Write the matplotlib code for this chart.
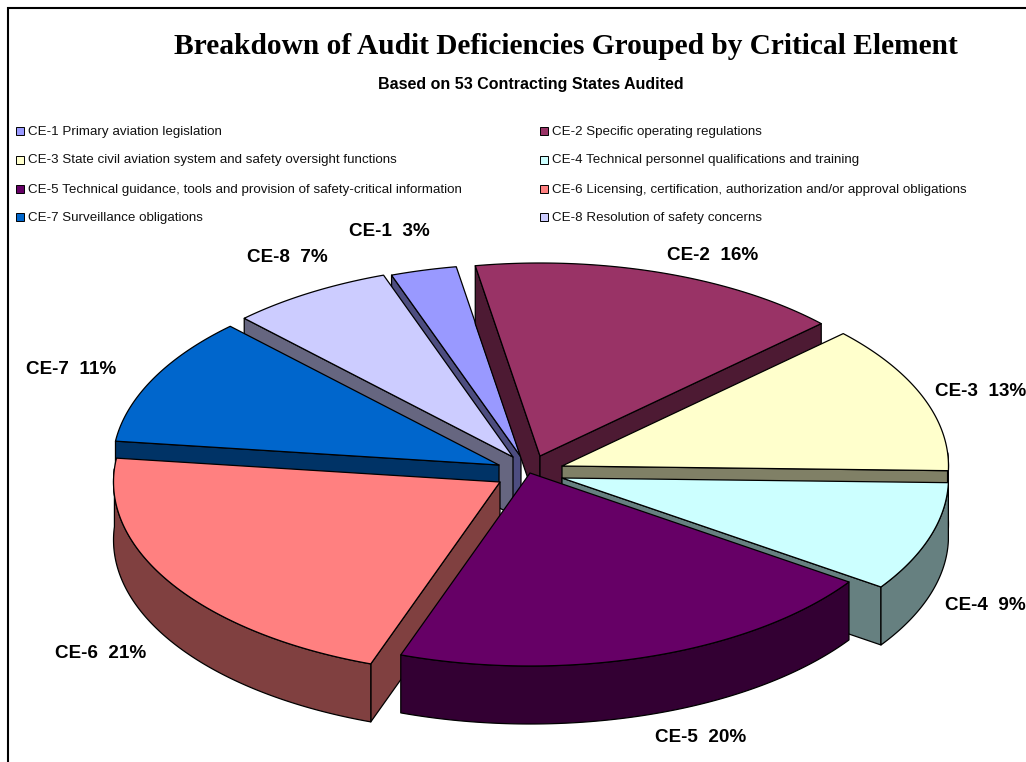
import numpy as np
import matplotlib
matplotlib.use("Agg")
import matplotlib.pyplot as plt
from matplotlib.patches import Polygon, Rectangle

# ---- data ----
codes = ["CE-1", "CE-2", "CE-3", "CE-4", "CE-5", "CE-6", "CE-7", "CE-8"]
values = [2.9, 16.4, 12.6, 9, 20, 21, 11, 7.1]
legend_names = [
    "Primary aviation legislation",
    "Specific operating regulations",
    "State civil aviation system and safety oversight functions",
    "Technical personnel qualifications and training",
    "Technical guidance, tools and provision of safety-critical information",
    "Licensing, certification, authorization and/or approval obligations",
    "Surveillance obligations",
    "Resolution of safety concerns",
]
title = "Breakdown of Audit Deficiencies Grouped by Critical Element"
subtitle = "Based on 53 Contracting States Audited"

# ---- style ----
top_colors = ["#9999FF", "#993366", "#FFFFCC", "#CCFFFF", "#660066", "#FF8080", "#0066CC", "#CCCCFF"]
side_colors = ["#4D4D80", "#4D1A33", "#808066", "#668080", "#330033", "#804040", "#003366", "#666680"]
explode_x = [-9, 10, 32, 32, 0, -30, -31, -17]
explode_y = [-9, -10, 0, 12, 7, 16, -1, -9]
label_pos = [(389, 231, "center"), (713, 255, "center"), (935, 391, "left"), (945, 605, "left"),
             (701, 737, "center"), (101, 653, "center"), (71, 370, "center"), (287, 257, "center")]
CX, CY = 530, 466
RX, RY = 386, 193
DEPTH = 58
START = -20.6

fig = plt.figure(figsize=(10.26, 7.62), dpi=100, facecolor="white")
ax = fig.add_axes([0, 0, 1, 1])
ax.set_xlim(0, 1026)
ax.set_ylim(762, 0)
ax.axis("off")

# frame
ax.plot([8, 8, 1026], [762, 8, 8], color="black", lw=1.5, solid_joinstyle="miter")


def rim(ax0, ay0, deg):
    a = np.radians(deg)
    u, v = np.sin(a), np.cos(a)
    x = ax0 + RX * u * (1 - 0.05 * v)
    y = ay0 - RY * (v + 0.05 * (1 - v ** 2))
    return np.column_stack([x, y])


edges = np.cumsum([0] + values) * 3.6 + START
mids = (edges[:-1] + edges[1:]) / 2
order = np.argsort(-np.cos(np.radians(mids)))
EDGE = dict(edgecolor="black", linewidth=0.9, joinstyle="round")

for i in order:
    a0, a1 = edges[i], edges[i + 1]
    apex = np.array([CX + explode_x[i], CY + explode_y[i]], dtype=float)
    down = np.array([0, DEPTH])
    for deg, visible in ((a0, np.sin(np.radians(a0)) < 0), (a1, np.sin(np.radians(a1)) > 0)):
        if visible:
            p = rim(apex[0], apex[1], deg)[0]
            ax.add_patch(Polygon([apex, p, p + down, apex + down], closed=True,
                                 facecolor=side_colors[i], **EDGE))
    # outer wall: only the part facing the viewer
    deg_all = np.linspace(a0, a1, 120)
    front = deg_all[np.cos(np.radians(deg_all)) < 0.02]
    if len(front) > 1:
        arc = rim(apex[0], apex[1], front)
        ax.add_patch(Polygon(np.vstack([arc, (arc + down)[::-1]]), closed=True,
                             facecolor=side_colors[i], **EDGE))
    arc = rim(apex[0], apex[1], deg_all)
    ax.add_patch(Polygon(np.vstack([apex, arc]), closed=True, facecolor=top_colors[i], **EDGE))

# titles
ax.text(566, 46, title, ha="center", va="center", fontsize=21.15, fontweight="bold",
        family="Liberation Serif")
ax.text(531, 85, subtitle, ha="center", va="center", fontsize=11.5, fontweight="bold",
        family="Liberation Sans")

# legend
for i, (code, name) in enumerate(zip(codes, legend_names)):
    row, col = i // 2, i % 2
    x = [16, 540][col]
    y = [130, 159, 188, 216][row]
    ax.add_patch(Rectangle((x, y - 3), 8, 8, facecolor=top_colors[i], edgecolor="black", linewidth=0.7))
    ax.text(x + 12.5, y + 1.5, f"{code} {name}", ha="left", va="center", fontsize=9.65,
            family="Liberation Sans", color="#111111")

# slice labels
for code, val, (x, y, ha) in zip(codes, values, label_pos):
    ax.text(x, y, f"{code}  {round(val)}%", ha=ha, va="center", fontsize=13.6, fontweight="bold",
            family="Liberation Sans")

fig.savefig("out.png", dpi=100)
